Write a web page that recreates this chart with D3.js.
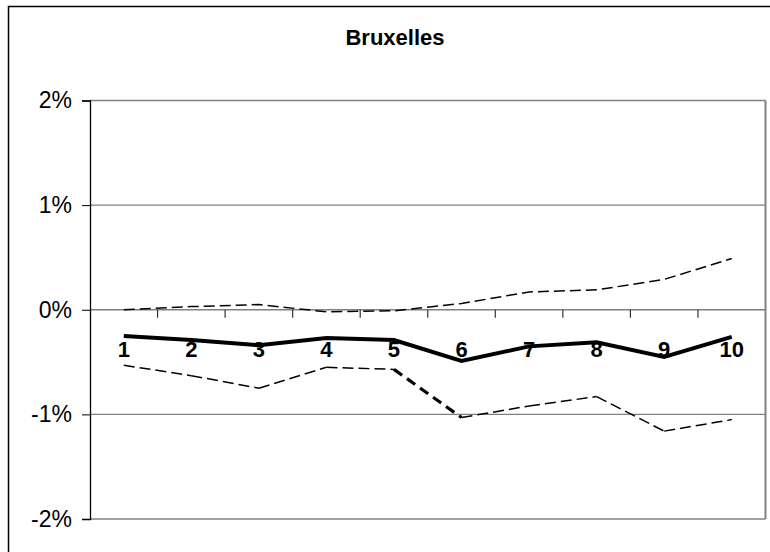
<!DOCTYPE html>
<html>
<head>
<meta charset="utf-8">
<script src="https://cdn.jsdelivr.net/npm/d3@7"></script>
<style>
  body { margin: 0; background: #fff; }
  svg { display: block; font-family: "Liberation Sans", Arial, sans-serif; }
</style>
</head>
<body>
<svg id="chart" width="770" height="552"></svg>
<script>
/*** DATA ***/
var categories = ['1', '2', '3', '4', '5', '6', '7', '8', '9', '10'];
var centralValues = [-0.25, -0.29, -0.34, -0.27, -0.29, -0.49, -0.35, -0.31, -0.45, -0.26];
var upperValues = [0.00, 0.03, 0.05, -0.02, -0.01, 0.06, 0.17, 0.19, 0.29, 0.49];
var lowerValues = [-0.53, -0.63, -0.75, -0.55, -0.57, -1.03, -0.92, -0.83, -1.16, -1.05];
var yTicks = [2, 1, 0, -1, -2];
var chartTitle = 'Bruxelles';

/*** LAYOUT ***/
var plot = { left: 90, top: 100.5, right: 765.5, bottom: 519 };
var svg = d3.select('#chart');

//outer frame (cropped at right and bottom)
svg.append('path')
  .attr('d', 'M8.5,560 L8.5,6.5 L780,6.5')
  .attr('fill', 'none')
  .attr('stroke', '#000')
  .attr('stroke-width', 1.5);

//scales
var x = d3.scaleBand().domain(categories).range([plot.left, plot.right]);
var y = d3.scaleLinear().domain([-2, 2]).range([plot.bottom, plot.top]);

//gridlines
svg.append('g')
  .selectAll('line')
  .data(yTicks)
  .join('line')
  .attr('x1', plot.left)
  .attr('x2', plot.right)
  .attr('y1', d => y(d))
  .attr('y2', d => y(d))
  .attr('stroke', '#808080')
  .attr('stroke-width', 1.3);

//right plot border
svg.append('line')
  .attr('x1', plot.right).attr('x2', plot.right)
  .attr('y1', plot.top).attr('y2', plot.bottom)
  .attr('stroke', '#808080')
  .attr('stroke-width', 2);

//y axis
var yAxis = d3.axisLeft(y)
  .tickValues(yTicks)
  .tickSize(8)
  .tickPadding(10)
  .tickFormat(d => d + '%');

svg.append('g')
  .attr('transform', 'translate(' + plot.left + ',0)')
  .call(yAxis)
  .call(g => g.select('.domain').attr('stroke', '#000').attr('stroke-width', 1.3))
  .call(g => g.selectAll('.tick line').attr('stroke', '#000'))
  .call(g => g.selectAll('.tick text')
    .attr('font-size', 23)
    .attr('fill', '#000')
    .attr('font-family', '"Liberation Sans", Arial, sans-serif'));

//x axis ticks at category boundaries on the 0% line
var boundaries = categories.slice(1).map(c => x(c));
svg.append('g')
  .selectAll('line')
  .data(boundaries)
  .join('line')
  .attr('x1', d => d).attr('x2', d => d)
  .attr('y1', y(0)).attr('y2', y(0) + 8)
  .attr('stroke', '#333')
  .attr('stroke-width', 1.2);

//x labels
svg.append('g')
  .selectAll('text')
  .data(categories)
  .join('text')
  .attr('x', d => x(d) + x.bandwidth() / 2)
  .attr('y', 357)
  .attr('text-anchor', 'middle')
  .attr('font-size', 22)
  .attr('font-weight', 'bold')
  .text(d => d);

//lines
var line = d3.line()
  .x((d, i) => x(categories[i]) + x.bandwidth() / 2)
  .y(d => y(d));

svg.append('path')
  .datum(upperValues)
  .attr('d', line)
  .attr('fill', 'none')
  .attr('stroke', '#000')
  .attr('stroke-width', 1.5)
  .attr('stroke-dasharray', '11,5');

//lower band: segment 5-6 is drawn heavier
var heavySeg = 4;
var lowerSegs = d3.pairs(lowerValues.map((v, i) => [i, v]));
svg.append('g')
  .selectAll('path')
  .data(lowerSegs)
  .join('path')
  .attr('d', s => 'M' + (x(categories[s[0][0]]) + x.bandwidth() / 2) + ',' + y(s[0][1]) +
    'L' + (x(categories[s[1][0]]) + x.bandwidth() / 2) + ',' + y(s[1][1]))
  .attr('fill', 'none')
  .attr('stroke', '#000')
  .attr('stroke-width', (s, i) => i == heavySeg ? 3.2 : 1.5)
  .attr('stroke-dasharray', (s, i) => i == heavySeg ? '10,6' : '11,5');

svg.append('path')
  .datum(centralValues)
  .attr('d', line)
  .attr('fill', 'none')
  .attr('stroke', '#000')
  .attr('stroke-width', 4)
  .attr('stroke-linejoin', 'miter');

//title
svg.append('text')
  .attr('x', 395)
  .attr('y', 45)
  .attr('text-anchor', 'middle')
  .attr('font-size', 22)
  .attr('font-weight', 'bold')
  .text(chartTitle);
</script>
</body>
</html>
